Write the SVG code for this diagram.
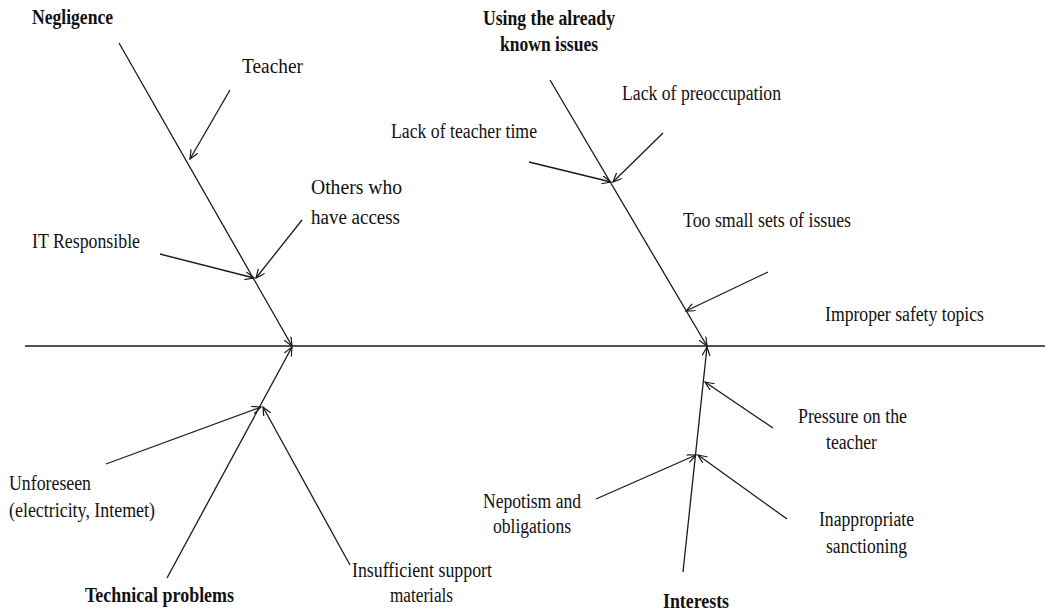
<svg xmlns="http://www.w3.org/2000/svg" width="1045" height="614" viewBox="0 0 1045 614">
  <style>
    .ln { stroke: #1a1a1a; stroke-width: 1.3; fill: none; }
    .ar { marker-end: url(#head); }
    text { font-family: "Liberation Serif", "Times New Roman", serif; font-size: 20px; fill: #111; }
    .b { font-weight: bold; }
  </style>
  <defs>
    <marker id="head" markerUnits="userSpaceOnUse" markerWidth="12" markerHeight="10" refX="9" refY="4" orient="auto">
      <path d="M0,0 L9,4 L0,8" fill="none" stroke="#1a1a1a" stroke-width="1.2"/>
    </marker>
  </defs>
  <rect width="1045" height="614" fill="#fff"/>

  <g id="connectors">
    <!-- spine -->
    <line class="ln" x1="25" y1="346" x2="1045" y2="346"/>
    <!-- main bones -->
    <line class="ln ar" x1="119" y1="43" x2="292" y2="346"/>
    <line class="ln ar" x1="167" y1="578" x2="292" y2="347"/>
    <line class="ln ar" x1="550" y1="80" x2="707" y2="346"/>
    <line class="ln ar" x1="683" y1="572" x2="707" y2="347"/>
    <!-- Negligence causes -->
    <line class="ln ar" x1="230" y1="90" x2="190" y2="159"/>
    <line class="ln ar" x1="302" y1="220" x2="256" y2="278"/>
    <line class="ln ar" x1="160" y1="254" x2="254" y2="278"/>
    <!-- Known issues causes -->
    <line class="ln ar" x1="529" y1="162" x2="611" y2="182"/>
    <line class="ln ar" x1="663" y1="133" x2="613" y2="182"/>
    <line class="ln ar" x1="768" y1="272" x2="686" y2="311"/>
    <!-- Technical problems causes -->
    <line class="ln ar" x1="106" y1="464" x2="261" y2="407"/>
    <line class="ln ar" x1="350" y1="565" x2="263" y2="407"/>
    <!-- Interests causes -->
    <line class="ln ar" x1="773" y1="428" x2="705" y2="382"/>
    <line class="ln ar" x1="596" y1="499" x2="696" y2="455"/>
    <line class="ln ar" x1="787" y1="519" x2="698" y2="455"/>
  </g>

  <g id="negligence">
    <text class="b" x="32" y="24" textLength="81" lengthAdjust="spacingAndGlyphs">Negligence</text>
  </g>
  <g id="teacher">
    <text x="242" y="73" textLength="61" lengthAdjust="spacingAndGlyphs">Teacher</text>
  </g>
  <g id="others-access">
    <text x="311" y="194" textLength="91" lengthAdjust="spacingAndGlyphs">Others who</text>
    <text x="311" y="224" textLength="89" lengthAdjust="spacingAndGlyphs">have access</text>
  </g>
  <g id="it-responsible">
    <text x="32" y="248" textLength="108" lengthAdjust="spacingAndGlyphs">IT Responsible</text>
  </g>

  <g id="known-issues">
    <text class="b" x="483" y="25" textLength="132" lengthAdjust="spacingAndGlyphs">Using the already</text>
    <text class="b" x="500" y="51" textLength="98" lengthAdjust="spacingAndGlyphs">known issues</text>
  </g>
  <g id="lack-preoccupation">
    <text x="622" y="100" textLength="159" lengthAdjust="spacingAndGlyphs">Lack of preoccupation</text>
  </g>
  <g id="lack-teacher-time">
    <text x="391" y="138" textLength="146" lengthAdjust="spacingAndGlyphs">Lack of teacher time</text>
  </g>
  <g id="small-sets">
    <text x="683" y="227" textLength="168" lengthAdjust="spacingAndGlyphs">Too small sets of issues</text>
  </g>
  <g id="effect">
    <text x="825" y="321" textLength="159" lengthAdjust="spacingAndGlyphs">Improper safety topics</text>
  </g>

  <g id="unforeseen">
    <text x="9" y="490" textLength="82" lengthAdjust="spacingAndGlyphs">Unforeseen</text>
    <text x="9" y="517" textLength="146" lengthAdjust="spacingAndGlyphs">(electricity, Intemet)</text>
  </g>
  <g id="technical-problems">
    <text class="b" x="85" y="602" textLength="149" lengthAdjust="spacingAndGlyphs">Technical problems</text>
  </g>
  <g id="support-materials">
    <text x="352" y="577" textLength="140" lengthAdjust="spacingAndGlyphs">Insufficient support</text>
    <text x="390" y="602" textLength="63" lengthAdjust="spacingAndGlyphs">materials</text>
  </g>

  <g id="pressure">
    <text x="798" y="423" textLength="109" lengthAdjust="spacingAndGlyphs">Pressure on the</text>
    <text x="826" y="449" textLength="51" lengthAdjust="spacingAndGlyphs">teacher</text>
  </g>
  <g id="nepotism">
    <text x="483" y="508" textLength="98" lengthAdjust="spacingAndGlyphs">Nepotism and</text>
    <text x="493" y="533" textLength="78" lengthAdjust="spacingAndGlyphs">obligations</text>
  </g>
  <g id="sanctioning">
    <text x="819" y="526" textLength="95" lengthAdjust="spacingAndGlyphs">Inappropriate</text>
    <text x="826" y="553" textLength="81" lengthAdjust="spacingAndGlyphs">sanctioning</text>
  </g>
  <g id="interests">
    <text class="b" x="663" y="608" textLength="66" lengthAdjust="spacingAndGlyphs">Interests</text>
  </g>
</svg>
